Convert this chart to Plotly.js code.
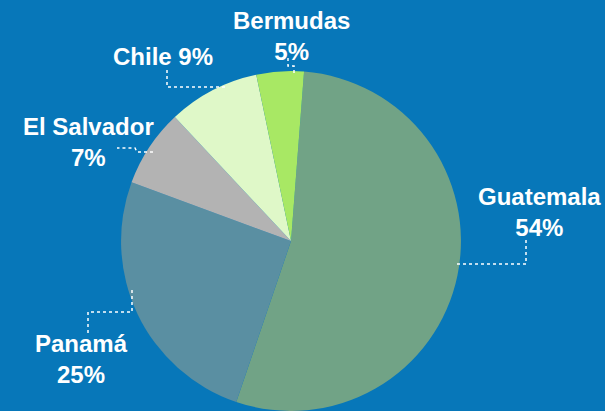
<!DOCTYPE html>
<html>
<head>
<meta charset="utf-8">
<script src="https://cdn.plot.ly/plotly-3.0.1.min.js"></script>
<style>
  html, body { margin: 0; padding: 0; background: #0777b9; }
  #chart { width: 605px; height: 411px; }
</style>
</head>
<body>
<div id="chart"></div>
<script>
// ---- data ----
const countries = ["Guatemala", "Panamá", "El Salvador", "Chile", "Bermudas"];
const shares = [54.0, 25.4, 7.4, 8.7, 4.5];
const labelTexts = ["Guatemala<br>54%", "Panamá<br>25%", "El Salvador<br>7%", "Chile 9%", "Bermudas<br>5%"];

// ---- style ----
const colors = ["#71a386", "#5a8fa2", "#b3b3b3", "#dff8c8", "#a8e864"];
const W = 605, H = 411;
// label centres (px) and dotted leader paths (px), layout only
const labelPos = [[539, 212], [82, 359], [88, 142], [163, 56], [291, 36]];
const leaders = [
  [[457, 264], [526, 264], [526, 238]],
  [[132, 290], [132, 312], [88, 312], [88, 334]],
  [[153, 152], [137, 152], [135, 148], [117, 148]],
  [[225, 87], [167, 87], [167, 68]],
  [[294, 73], [294, 66], [288, 66], [288, 58]]
];
const px = x => x / W;
const py = y => 1 - y / H;

const annotations = labelTexts.map((t, i) => ({
  text: t, xref: "paper", yref: "paper",
  x: px(labelPos[i][0]), y: py(labelPos[i][1]),
  xanchor: "center", yanchor: "middle", showarrow: false, align: "center",
  font: { family: "Liberation Sans, Arial, sans-serif", size: 24, color: "#ffffff", weight: "bold" }
}));

const shapes = leaders.map(pts => ({
  type: "path", xref: "paper", yref: "paper",
  path: pts.map((p, j) => (j === 0 ? "M" : "L") + px(p[0]) + "," + py(p[1])).join(" "),
  line: { color: "#ffffff", width: 1.5, dash: "dot" }
}));

const trace = {
  type: "pie",
  labels: countries,
  values: shares,
  sort: false,
  direction: "clockwise",
  rotation: 4.4,
  textinfo: "none",
  hoverinfo: "label+percent",
  marker: { colors: colors, line: { width: 0 } },
  domain: { x: [0.2, 0.762], y: [0, 0.827] },
  showlegend: false
};

const layout = {
  width: W, height: H,
  margin: { l: 0, r: 0, t: 0, b: 0 },
  paper_bgcolor: "#0777b9",
  plot_bgcolor: "#0777b9",
  showlegend: false,
  annotations: annotations,
  shapes: shapes
};

Plotly.newPlot("chart", [trace], layout, { displayModeBar: false, staticPlot: true });
</script>
</body>
</html>
